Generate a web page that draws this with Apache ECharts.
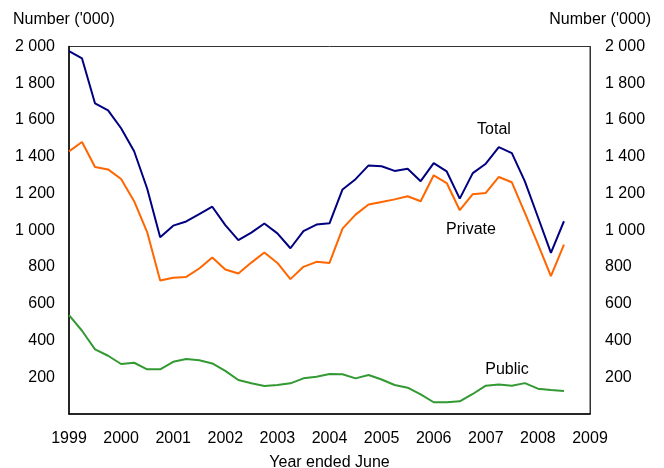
<!DOCTYPE html>
<html>
<head>
<meta charset="utf-8">
<script src="https://cdn.jsdelivr.net/npm/echarts@6/dist/echarts.min.js"></script>
<style>html,body{margin:0;padding:0;background:#fff}#c{width:664px;height:468px}</style>
</head>
<body>
<div id="c"></div>
<script>
// Quarterly data, starting June 1999, step one quarter
const startYear = 1999;
const total = [1975,1935,1690,1652,1555,1430,1227,962,1025,1048,1088,1128,1028,946,987,1037,983,902,995,1031,1038,1222,1278,1353,1348,1323,1335,1267,1365,1320,1172,1311,1362,1452,1420,1266,1072,877,1049];
const privateSector = [1429,1480,1344,1331,1279,1158,990,727,742,746,792,852,786,765,824,879,822,734,801,828,822,1009,1085,1140,1154,1168,1185,1158,1299,1257,1109,1196,1203,1290,1261,1094,924,750,922];
const publicSector = [538,453,352,317,272,279,243,243,284,299,293,275,235,185,167,152,158,167,194,203,218,216,194,212,188,158,143,107,64,64,69,109,154,161,154,168,138,130,125];
const xTicks = [1999,2000,2001,2002,2003,2004,2005,2006,2007,2008,2009];
const yTicks = [0,200,400,600,800,1000,1200,1400,1600,1800,2000];

const toPairs = arr => arr.map((v, i) => [startYear + i / 4, v]);
const fmtY = v => v === 0 ? '' : (v >= 1000 ? Math.floor(v / 1000) + ' ' + String(v % 1000).padStart(3, '0') : String(v));
const font = 'Liberation Sans, Arial, sans-serif';
const txt = '#000';

const chart = echarts.init(document.getElementById('c'), null, {renderer: 'canvas'});
chart.setOption({
  animation: false,
  backgroundColor: '#fff',
  textStyle: {fontFamily: font},
  grid: {left: 69, right: 74, top: 46.5, bottom: 54, outerBoundsMode: 'none', containLabel: false, show: true, borderColor: '#333', borderWidth: 1, backgroundColor: 'transparent'},
  xAxis: {
    type: 'value', min: xTicks[0], max: xTicks[xTicks.length - 1], interval: 1,
    name: 'Year ended June', nameLocation: 'middle', nameGap: 41,
    nameTextStyle: {color: txt, fontSize: 16, fontFamily: font},
    axisLine: {show: true, lineStyle: {color: '#000', width: 1.5}},
    axisTick: {show: false}, splitLine: {show: false},
    axisLabel: {color: txt, fontSize: 16, fontFamily: font, margin: 17, formatter: v => String(Math.round(v)), showMinLabel: true, showMaxLabel: true}
  },
  yAxis: [
    {type: 'value', min: yTicks[0], max: yTicks[yTicks.length - 1], interval: 200, position: 'left',
     axisLine: {show: true, lineStyle: {color: '#000', width: 1.5}}, axisTick: {show: false}, splitLine: {show: false},
     axisLabel: {color: txt, fontSize: 16, fontFamily: font, margin: 14, formatter: fmtY}},
    {type: 'value', min: yTicks[0], max: yTicks[yTicks.length - 1], interval: 200, position: 'right',
     axisLine: {show: true, lineStyle: {color: '#333', width: 1}}, axisTick: {show: false}, splitLine: {show: false},
     axisLabel: {color: txt, fontSize: 16, fontFamily: font, margin: 15, formatter: fmtY}}
  ],
  series: [
    {name: 'Total', type: 'line', data: toPairs(total), showSymbol: false, lineStyle: {color: '#000080', width: 2}, itemStyle: {color: '#000080'}},
    {name: 'Private', type: 'line', data: toPairs(privateSector), showSymbol: false, lineStyle: {color: '#FF6600', width: 2}, itemStyle: {color: '#FF6600'}},
    {name: 'Public', type: 'line', data: toPairs(publicSector), showSymbol: false, lineStyle: {color: '#339933', width: 2}, itemStyle: {color: '#339933'}}
  ],
  graphic: [
    {type: 'text', left: 13, top: 12, style: {text: "Number ('000)", fill: txt, font: '16px ' + font}},
    {type: 'text', right: 13, top: 12, style: {text: "Number ('000)", fill: txt, font: '16px ' + font}},
    {type: 'text', x: 494, y: 130, style: {text: 'Total', fill: txt, font: '16px ' + font, align: 'center', verticalAlign: 'middle'}},
    {type: 'text', x: 471, y: 230, style: {text: 'Private', fill: txt, font: '16px ' + font, align: 'center', verticalAlign: 'middle'}},
    {type: 'text', x: 507, y: 370, style: {text: 'Public', fill: txt, font: '16px ' + font, align: 'center', verticalAlign: 'middle'}}
  ]
});
</script>
</body>
</html>
